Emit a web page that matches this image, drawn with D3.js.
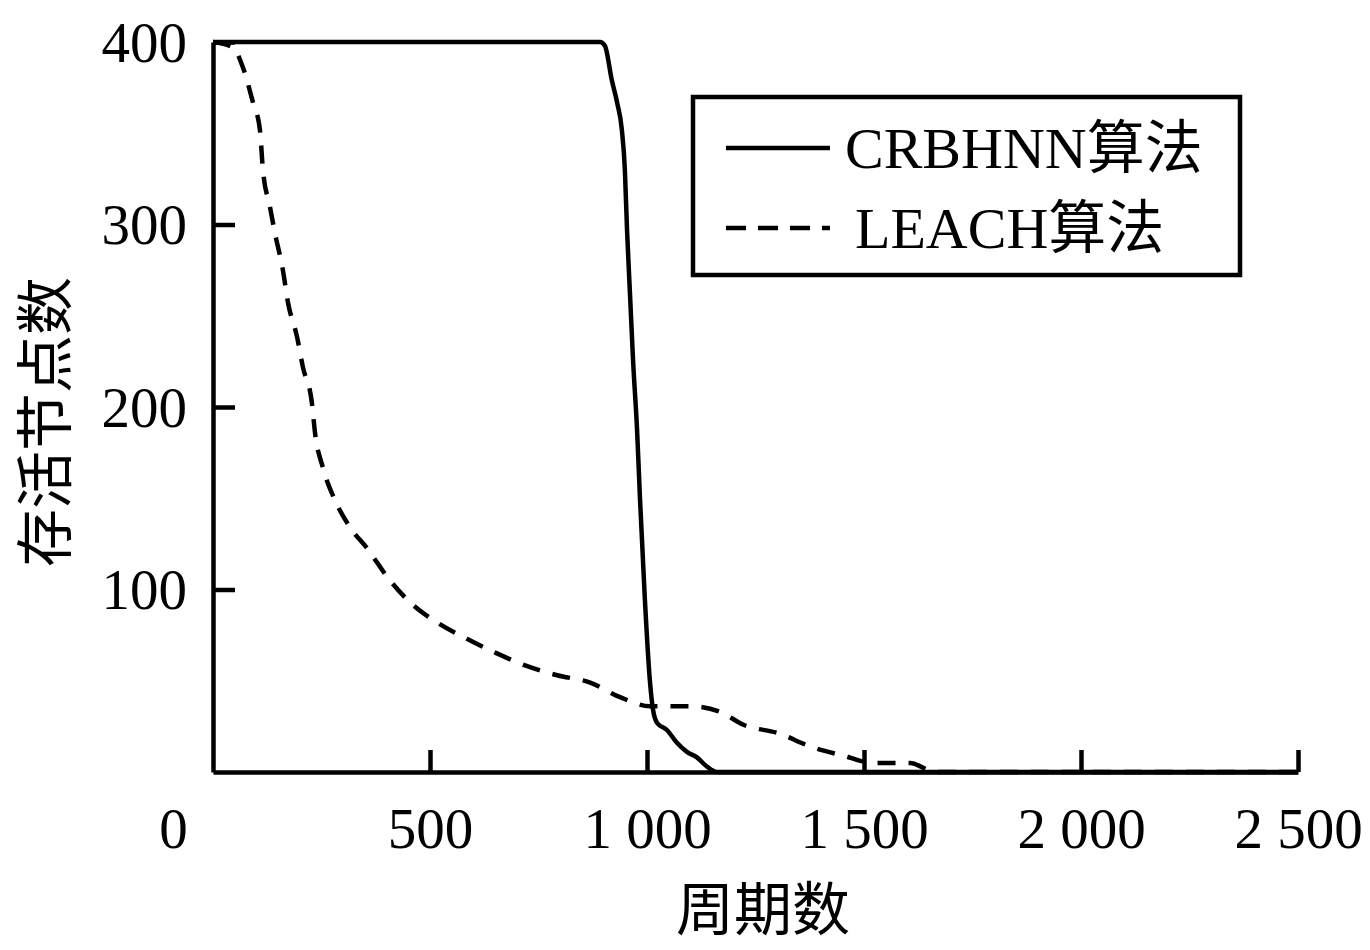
<!DOCTYPE html>
<html>
<head>
<meta charset="utf-8">
<script src="https://cdn.jsdelivr.net/npm/d3@7"></script>
<style>
    body { margin: 0; background: #fff; }
    text { font-family: "Liberation Serif", "Noto Sans CJK SC", serif; fill: #000; }
</style>
</head>
<body>
<div id="chart"></div>
<script>
// rounds and alive node counts
const crbhnn_rounds = [0, 892, 903, 919, 931, 942, 949, 954, 961, 968, 977, 984, 995, 1007, 1014, 1023, 1046, 1069, 1092, 1115, 1138, 1161, 2500];
const crbhnn_alive  = [400, 400, 398, 379, 367, 352, 330, 297, 261, 225, 188, 149, 95, 49, 34, 27, 23, 16, 11, 8, 3, 0, 0];

const leach_rounds = [0, 46, 69, 92, 108, 115, 131, 143, 161, 173, 194, 207, 228, 235, 253, 281, 316, 357, 401, 454, 516, 585, 654, 724, 793, 869, 938, 1007, 1099, 1168, 1221, 1306, 1376, 1452, 1521, 1606, 1664, 2500];
const leach_alive  = [400, 397, 386, 367, 352, 330, 310, 295, 275, 257, 238, 222, 202, 186, 167, 149, 134, 122, 107, 93, 82, 73, 65, 58, 53, 49, 41, 36, 36, 33, 26, 21, 14, 9, 5, 5, 0, 0];

const x_ticks = [0, 500, 1000, 1500, 2000, 2500];
const y_ticks = [100, 200, 300, 400];
const series_names = ["CRBHNN算法", "LEACH算法"];
const x_title = "周期数";
const y_title = "存活节点数";

class AliveChart {
    constructor() {
        this.width = 1370;
        this.height = 950;
        this.margin = { top: 42, left: 213, right: 72, bottom: 178 };
    }

    initialize() {
        this.setup_svg();
        this.setup_scales();
        this.draw_axes();
        this.draw_lines();
        this.draw_legend();
        this.draw_titles();
    }

    setup_svg() {
        this.svg = d3.select("#chart")
            .append("svg")
            .attr("width", this.width)
            .attr("height", this.height);
    }

    setup_scales() {
        this.x = d3.scaleLinear()
            .domain([0, 2500])
            .range([this.margin.left, this.width - this.margin.right]);
        this.y = d3.scaleLinear()
            .domain([0, 400])
            .range([this.height - this.margin.bottom, this.margin.top]);
    }

    draw_axes() {
        let fmt = d => d >= 1000 ? d3.format(",")(d).replace(",", " ") : d;

        let xAxis = d3.axisBottom(this.x)
            .tickValues(x_ticks)
            .tickFormat(fmt)
            .tickSizeInner(-22)
            .tickSizeOuter(0)
            .tickPadding(36);

        let yAxis = d3.axisLeft(this.y)
            .tickValues(y_ticks)
            .tickSizeInner(-22)
            .tickSizeOuter(0)
            .tickPadding(26);

        let gx = this.svg.append("g")
            .attr("transform", "translate(0," + this.y(0) + ")")
            .call(xAxis);
        let gy = this.svg.append("g")
            .attr("transform", "translate(" + this.x(0) + ",0)")
            .call(yAxis);

        [gx, gy].forEach(g => {
            g.select(".domain").attr("stroke", "#000").attr("stroke-width", 4.5);
            g.selectAll(".tick line").attr("stroke", "#000").attr("stroke-width", 4.5);
            g.selectAll(".tick text")
                .attr("font-family", null)
                .attr("font-size", 57)
                .attr("fill", "#000");
        });
        gy.selectAll(".tick text").attr("dy", "0.34em");

        // the zero label sits left of the corner
        gx.selectAll(".tick")
            .filter(d => d === 0)
            .select("text")
            .attr("x", -40);
        gx.selectAll(".tick")
            .filter(d => d === 0)
            .select("line")
            .remove();
    }

    draw_lines() {
        let line = d3.line()
            .curve(d3.curveMonotoneX)
            .x(d => this.x(d[0]))
            .y(d => this.y(d[1]));

        this.svg.append("path")
            .datum(d3.zip(leach_rounds, leach_alive))
            .attr("fill", "none")
            .attr("stroke", "#000")
            .attr("stroke-width", 4.5)
            .attr("stroke-dasharray", "18,13")
            .attr("d", line);

        this.svg.append("path")
            .datum(d3.zip(crbhnn_rounds, crbhnn_alive))
            .attr("fill", "none")
            .attr("stroke", "#000")
            .attr("stroke-width", 4.5)
            .attr("stroke-linejoin", "round")
            .attr("d", line);
    }

    draw_legend() {
        let legend = this.svg.append("g");

        legend.append("rect")
            .attr("x", 693)
            .attr("y", 97)
            .attr("width", 547)
            .attr("height", 178)
            .attr("fill", "#fff")
            .attr("stroke", "#000")
            .attr("stroke-width", 4.5);

        let rows = [
            { name: series_names[0], y: 148, dash: null, tx: 845 },
            { name: series_names[1], y: 228, dash: "20,12", tx: 855 }
        ];

        rows.forEach(r => {
            legend.append("line")
                .attr("x1", 726)
                .attr("x2", 830)
                .attr("y1", r.y)
                .attr("y2", r.y)
                .attr("stroke", "#000")
                .attr("stroke-width", 4.5)
                .attr("stroke-dasharray", r.dash);
            legend.append("text")
                .attr("x", r.tx)
                .attr("y", r.y)
                .attr("dy", "0.35em")
                .attr("font-size", 58)
                .text(r.name);
        });
    }

    draw_titles() {
        this.svg.append("text")
            .attr("x", 763)
            .attr("y", 910)
            .attr("dy", "0.35em")
            .attr("text-anchor", "middle")
            .attr("font-size", 58)
            .text(x_title);

        this.svg.append("text")
            .attr("transform", "translate(46,422) rotate(-90)")
            .attr("dy", "0.35em")
            .attr("text-anchor", "middle")
            .attr("font-size", 58)
            .text(y_title);
    }
}

const chart = new AliveChart();
chart.initialize();
</script>
</body>
</html>
